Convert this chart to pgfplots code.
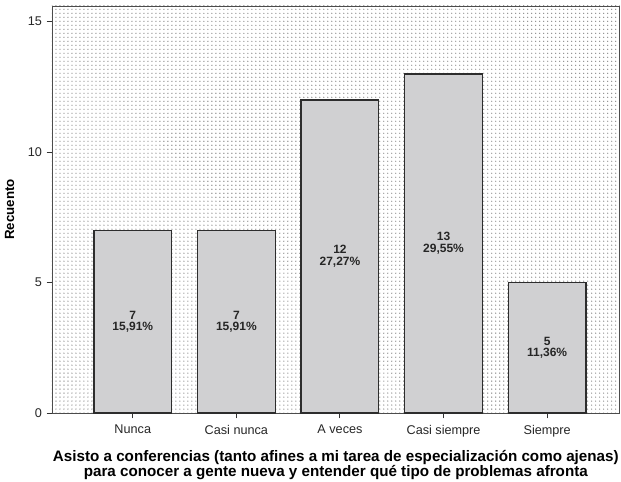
\documentclass[border=0pt]{standalone}
\usepackage{fontspec}
\setmainfont{Liberation Sans}
\setsansfont{Liberation Sans}
\usepackage{pgfplots}
\pgfplotsset{compat=1.18}
\usepackage{pgfplotstable}
\usetikzlibrary{patterns}
\definecolor{barfill}{RGB}{208,208,210}
\definecolor{edge}{RGB}{45,45,45}

\pgfplotstableread{
x y h n pct
0 7 3.5 7 15.91
1 7 3.5 7 15.91
2 12 6 12 27.27
3 13 6.5 13 29.55
4 5 2.5 5 11.36
}\data

\begin{document}
\begin{tikzpicture}
\path[use as bounding box] (-39pt,-51pt) rectangle (427pt,310pt);
\begin{axis}[
  at={(0,0)}, anchor=south west,
  width=426pt, height=305.5pt, scale only axis,
  xmin=-0.78, xmax=4.7, ymin=0, ymax=15.6,
  ytick={0,5,10,15}, xtick={0,1,2,3,4},
  xticklabels={Nunca, Casi nunca, A veces, Casi siempre, Siempre},
  tick align=outside, tick pos=left,
  major tick length=4pt,
  axis line style={draw=black!70},
  tick style={draw=black!80, line width=0.8pt},
  tick label style={font=\fontsize{9.5}{11}\selectfont, text=black!85},
  /pgf/number format/assume math mode=true,
  xticklabel style={yshift=-1.5pt},
  axis background/.style={preaction={fill=white}, pattern=dots, pattern color=gray!90},
  ylabel={Recuento},
  ylabel style={font=\bfseries\fontsize{10}{12}\selectfont, at={(axis description cs:-0.058,0.5)}, anchor=south},
  xlabel={Asisto a conferencias (tanto afines a mi tarea de especialización como ajenas)\\para conocer a gente nueva y entender qué tipo de problemas afronta},
  xlabel style={font=\bfseries\fontsize{11.4}{11.4}\selectfont, align=center, at={(axis description cs:0.5,-0.08)}, anchor=north},
]
\addplot[ybar, bar width=0.75, fill=barfill, draw=edge, line width=1pt] table[x=x, y=y] {\data};
\addplot[draw=none, mark=none,
  point meta=\thisrow{n},
  visualization depends on={\thisrow{pct}\as\pval},
  nodes near coords={\pgfmathprintnumber{\pgfplotspointmeta}\\\pgfmathprintnumber[fixed,fixed zerofill,precision=2,use comma]{\pval}\%},
  nodes near coords align=center,
  nodes near coords style={align=center, anchor=center, font=\bfseries\fontsize{9}{8.8}\selectfont, text=black!85},
] table[x=x, y=h] {\data};
\end{axis}
\end{tikzpicture}
\end{document}
